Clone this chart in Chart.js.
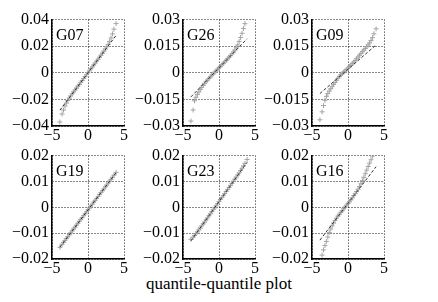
<!DOCTYPE html>
<html><head><meta charset="utf-8">
<script src="https://cdn.jsdelivr.net/npm/chart.js@4/dist/chart.umd.min.js"></script>
<style>
html,body{margin:0;padding:0;background:#fff;}
#wrap{position:relative;width:438px;height:302px;overflow:hidden;background:#fff;}
#wrap canvas{position:absolute;}
#xlabel{position:absolute;left:0;width:438px;text-align:center;top:274px;font-family:"Liberation Serif";font-size:17px;line-height:20px;color:#000;}
</style></head><body>
<div id="wrap"><div id="xlabel">quantile-quantile plot</div></div>
<script>
// ---- data ----
const quantiles = [-3.9,-3.6,-3.4,-3.2,-3.0,-2.8,-2.6,-2.4,-2.2,-2.0,-1.8,-1.6,-1.4,-1.2,-1.0,-0.8,-0.6,-0.4,-0.2,0,0.2,0.4,0.6,0.8,1.0,1.2,1.4,1.6,1.8,2.0,2.2,2.4,2.6,2.8,3.0,3.2,3.4,3.6,3.9];
const names = ['G07','G26','G09','G19','G23','G16'];
const g07 = [-0.037,-0.031,-0.028,-0.025,-0.0228,-0.0208,-0.019,-0.0174,-0.0158,-0.0144,-0.013,-0.0115,-0.0101,-0.0087,-0.0072,-0.0058,-0.0043,-0.0029,-0.0014,0.0001,0.0015,0.003,0.0044,0.0059,0.0073,0.0088,0.0102,0.0117,0.0132,0.0147,0.0163,0.0179,0.0196,0.0214,0.0236,0.0262,0.0293,0.0328,0.037];
const g26 = [-0.0272,-0.021,-0.0158,-0.0138,-0.0122,-0.0108,-0.0094,-0.0082,-0.0071,-0.006,-0.005,-0.0041,-0.0032,-0.0023,-0.0014,-0.0006,0.0003,0.0011,0.002,0.0028,0.0036,0.0045,0.0053,0.0062,0.007,0.0079,0.0088,0.0097,0.0107,0.0117,0.0128,0.0141,0.0157,0.0177,0.0199,0.0223,0.025,0.0277,0.035];
const g09 = [-0.0265,-0.022,-0.0185,-0.0155,-0.0133,-0.0117,-0.0103,-0.009,-0.0078,-0.0066,-0.0055,-0.0042,-0.0031,-0.0021,-0.0012,-0.0004,0.0004,0.0011,0.0019,0.0027,0.0035,0.0043,0.0052,0.006,0.0069,0.0079,0.0089,0.0099,0.0109,0.0119,0.0128,0.0137,0.0147,0.0157,0.0168,0.0182,0.0198,0.022,0.0248];
const g19 = [-0.0155,-0.0143,-0.0136,-0.0128,-0.0121,-0.0114,-0.0106,-0.0099,-0.0091,-0.0084,-0.0077,-0.0069,-0.0062,-0.0054,-0.0047,-0.004,-0.0032,-0.0025,-0.0017,-0.001,-0.0003,0.0005,0.0012,0.002,0.0027,0.0034,0.0042,0.0049,0.0057,0.0064,0.0071,0.0079,0.0086,0.0094,0.0101,0.0108,0.0116,0.0124,0.0135];
const g23 = [-0.0124,-0.0116,-0.0109,-0.0102,-0.0095,-0.0087,-0.008,-0.0072,-0.0064,-0.0057,-0.0049,-0.0041,-0.0033,-0.0025,-0.0017,-0.0009,-0.0002,0.0006,0.0014,0.0022,0.003,0.0038,0.0045,0.0053,0.0061,0.0069,0.0077,0.0085,0.0093,0.0101,0.0109,0.0117,0.0125,0.0133,0.0142,0.0151,0.016,0.017,0.0185];
const g16 = [-0.0215,-0.0185,-0.0165,-0.0148,-0.0132,-0.0115,-0.0098,-0.0084,-0.0072,-0.0061,-0.0051,-0.0042,-0.0034,-0.0027,-0.002,-0.0013,-0.0006,0.0001,0.0008,0.0015,0.0022,0.0029,0.0037,0.0045,0.0053,0.0061,0.007,0.008,0.0091,0.0103,0.0116,0.013,0.0144,0.0158,0.0171,0.0184,0.0198,0.0215,0.024];
const refLineX = [-3.9, 3.9];
const g07Line = [-0.0281, 0.0281];
const g26Line = [-0.0136, 0.0192];
const g09Line = [-0.0117, 0.0157];
const g19Line = [-0.0154, 0.0134];
const g23Line = [-0.013, 0.0174];
const g16Line = [-0.0127, 0.0157];
const xTicks = [-5, 0, 5];
const xTickLabels = ['\u22125', '0', '5'];
const yTicksA = [-0.04, -0.02, 0, 0.02, 0.04];
const yTickLabelsA = ['\u22120.04', '\u22120.02', '0', '0.02', '0.04'];
const yTicksB = [-0.03, -0.015, 0, 0.015, 0.03];
const yTickLabelsB = ['\u22120.03', '\u22120.015', '0', '0.015', '0.03'];
const yTicksC = [-0.02, -0.01, 0, 0.01, 0.02];
const yTickLabelsC = ['\u22120.02', '\u22120.01', '0', '0.01', '0.02'];

const series = [g07, g26, g09, g19, g23, g16];
const refLines = [g07Line, g26Line, g09Line, g19Line, g23Line, g16Line];
const yTickSets = [yTicksA, yTicksB, yTicksB, yTicksC, yTicksC, yTicksC];
const yLabelSets = [yTickLabelsA, yTickLabelsB, yTickLabelsB, yTickLabelsC, yTickLabelsC, yTickLabelsC];

// ---- layout (plot-area placement) ----
const panelPos = [
  {left:52, top:19, w:72, h:107},
  {left:183, top:19, w:72, h:107},
  {left:312, top:19, w:72, h:107},
  {left:52, top:155, w:72, h:104},
  {left:183, top:155, w:72, h:104},
  {left:312, top:155, w:72, h:104}
];
const PADL = 52, PADR = 8, PADT = 12, PADB = 22;
const FONT = 'Liberation Serif';

const panelLabel = {
  id: 'panelLabel',
  afterDraw(chart, args, opts) {
    const {ctx, chartArea} = chart;
    ctx.save();
    ctx.font = '16px "' + FONT + '"';
    ctx.fillStyle = '#000';
    ctx.textBaseline = 'alphabetic';
    ctx.textAlign = 'left';
    ctx.fillText(opts.text, chartArea.left + 4, chartArea.top + 20);
    ctx.restore();
  }
};

const wrap = document.getElementById('wrap');
panelPos.forEach((p, i) => {
  const cv = document.createElement('canvas');
  cv.width = PADL + p.w + PADR;
  cv.height = PADT + p.h + PADB;
  cv.style.left = (p.left - PADL) + 'px';
  cv.style.top = (p.top - PADT) + 'px';
  wrap.appendChild(cv);
  const yt = yTickSets[i], yl = yLabelSets[i];
  new Chart(cv, {
    type: 'scatter',
    data: {
      datasets: [
        {
          data: refLineX.map((x, k) => ({x: x, y: refLines[i][k]})),
          showLine: true, pointRadius: 0, borderColor: '#333333', borderWidth: 1,
          borderDash: [3, 2], fill: false
        },
        {
          data: quantiles.map((x, k) => ({x: x, y: series[i][k]})),
          pointStyle: 'cross', pointRadius: 2.5, borderColor: '#a4a4a4',
          backgroundColor: '#a4a4a4', borderWidth: 1, showLine: false
        }
      ]
    },
    options: {
      responsive: false, animation: false, events: [],
      layout: {padding: {left: 0, right: PADR, top: PADT, bottom: 0}},
      plugins: {legend: {display: false}, tooltip: {enabled: false}, panelLabel: {text: names[i]}},
      scales: {
        x: {
          type: 'linear', min: -5, max: 5,
          afterBuildTicks: s => { s.ticks = xTicks.map(v => ({value: v})); },
          afterFit: s => { s.height = PADB; },
          grid: {color: '#111', lineWidth: 1, drawTicks: false},
          border: {display: true, color: '#000', width: 1.5, dash: [1, 2]},
          ticks: {font: {family: FONT, size: 16}, color: '#000', padding: 0, autoSkip: false, maxRotation: 0,
                  callback: (v, idx) => xTickLabels[idx]}
        },
        y: {
          type: 'linear', min: yt[0], max: yt[yt.length - 1],
          afterBuildTicks: s => { s.ticks = yt.map(v => ({value: v})); },
          afterFit: s => { s.width = PADL; },
          grid: {color: '#111', lineWidth: 1, drawTicks: false},
          border: {display: true, color: '#000', width: 1.5, dash: [1, 2]},
          ticks: {font: {family: FONT, size: 16}, color: '#000', padding: 3, autoSkip: false,
                  callback: (v, idx) => yl[idx]}
        }
      }
    },
    plugins: [panelLabel]
  });
});
</script>
</body></html>
